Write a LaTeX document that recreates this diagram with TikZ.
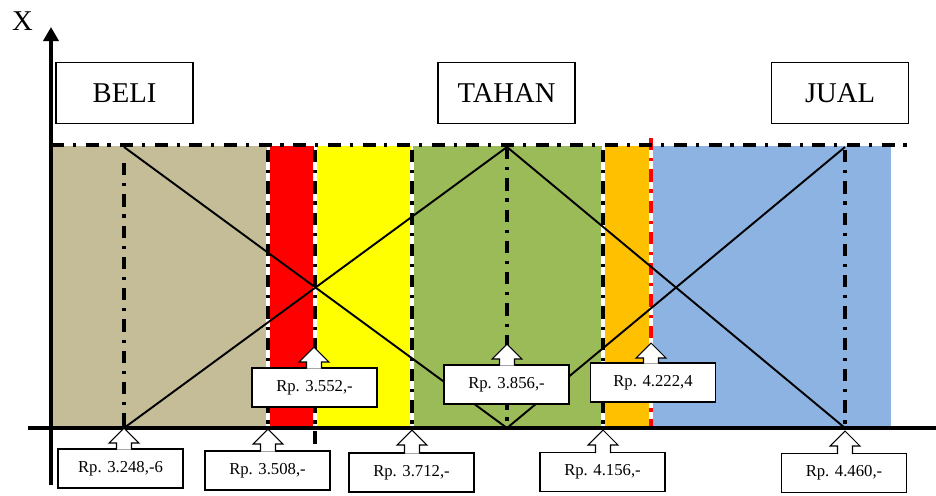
\documentclass[tikz,border=0pt]{standalone}
\usepackage{fontspec}
\setmainfont{Liberation Serif}
\usetikzlibrary{arrows.meta}
\definecolor{zonebeli}{HTML}{C4BD97}
\definecolor{zonered}{HTML}{FF0000}
\definecolor{zoneyellow}{HTML}{FFFF00}
\definecolor{zonegreen}{HTML}{9BBB59}
\definecolor{zoneorange}{HTML}{FFC000}
\definecolor{zoneblue}{HTML}{8DB3E2}
\tikzset{
	dashdot line/.style={line width=1.9pt, dash pattern=on 7pt off 4.5pt on 1.8pt off 4.5pt},
	zone border/.style={dashdot line, preaction={draw, white, solid, line width=1.9pt}},
	top line/.style={line width=2.2pt, dash pattern=on 7.4pt off 5pt on 1.8pt off 5.5pt},
	axis line/.style={line width=2.2pt, -{Triangle[length=0.28cm, width=0.3cm]}},
	member line/.style={line width=1.1pt},
	zone label/.style={draw, line width=0.8pt, minimum width=2.74cm, minimum height=1.22cm, inner sep=0pt, font=\fontsize{16.3}{18}\selectfont},
	price box/.style={draw, fill=white, line width=0.6pt, minimum width=2.5cm, minimum height=0.78cm, inner sep=0pt, font=\fontsize{9.5}{11}\selectfont},
	price arrow/.style={draw, fill=white, line width=0.6pt, line join=miter},
}
% price tag: name, box x, box y, tip x, tip y, text
\newcommand{\pricetag}[6]{%
	\node[price box] (#1) at (#2,#3) {#6};
	\coordinate (#1-tip) at (#4,#5);
	\draw[price arrow] ([xshift=-0.15cm, yshift=-0.6pt]#1-tip |- #1.north) -- ([xshift=-0.15cm, yshift=-0.3cm]#1-tip) -- ([xshift=-0.3cm, yshift=-0.3cm]#1-tip) -- (#1-tip) -- ([xshift=0.3cm, yshift=-0.3cm]#1-tip) -- ([xshift=0.15cm, yshift=-0.3cm]#1-tip) -- ([xshift=0.15cm, yshift=-0.6pt]#1-tip |- #1.north);
}
\begin{document}
\begin{tikzpicture}[x=0.02cm, y=-0.02cm]
	\useasboundingbox (0,0) rectangle (936,495);
	% Zones:
	\fill[zonebeli] (53,146) rectangle (267,428);
	\fill[zonered] (269.5,146) rectangle (313.5,428);
	\fill[zoneyellow] (316.5,146) rectangle (411,428);
	\fill[zonegreen] (413,146) rectangle (602,428);
	\fill[zoneorange] (604.5,146) rectangle (650,428);
	\fill[zoneblue] (652,146) rectangle (890.5,428);
	% Borders:
	\draw[dashdot line] (124,163) -- (124,428);
	\draw[zone border] (268,150) -- (268,428);
	\draw[zone border] (315,150) -- (315,460);
	\draw[zone border] (412,150) -- (412,428);
	\draw[dashdot line] (507,147) -- (507,428);
	\draw[zone border] (603,150) -- (603,428);
	\draw[dashdot line] (845,150) -- (845,428);
	\draw[zone border, zonered] (651,138) -- (651,428);
	% Membership lines:
	\coordinate (beli-top) at (124,147);
	\coordinate (beli-foot) at (124,428);
	\coordinate (tahan-top) at (507,147);
	\coordinate (tahan-foot) at (507,428);
	\coordinate (jual-top) at (845,147);
	\coordinate (jual-foot) at (845,428);
	\draw[member line] (beli-top) -- (tahan-foot);
	\draw[member line] (beli-foot) -- (tahan-top) -- (jual-foot);
	\draw[member line] (tahan-foot) -- (jual-top);
	\draw[top line] (51,145) -- (908,145);
	% Axes:
	\coordinate (origin-x) at (28,428);
	\coordinate (end-x) at (950,428);
	\coordinate (origin-y) at (51,485);
	\coordinate (end-y) at (51,27);
	\draw[axis line] (origin-x) -- (end-x);
	\draw[axis line] (origin-y) -- (end-y);
	\node[font=\fontsize{16.3}{18}\selectfont] (xlabel) at (22.5,21) {X};
	% Zone labels:
	\node[zone label] (beli) at (124.5,93) {BELI};
	\node[zone label] (tahan) at (506.5,93) {TAHAN};
	\node[zone label] (jual) at (840,93) {JUAL};
	% Price tags:
	\pricetag{p3552}{314.5}{387.5}{314}{347}{Rp. 3.552,-}
	\pricetag{p3856}{506.5}{384.5}{507}{344}{Rp. 3.856,-}
	\pricetag{p4222}{653}{382.5}{651}{343}{Rp. 4.222,4}
	\pricetag{p3248}{120.5}{468.5}{124}{428}{Rp. 3.248,-6}
	\pricetag{p3508}{267.5}{470.5}{268}{429}{Rp. 3.508,-}
	\pricetag{p3712}{411.5}{472.5}{412}{430}{Rp. 3.712,-}
	\pricetag{p4156}{602.5}{472}{603}{430}{Rp. 4.156,-}
	\pricetag{p4460}{844}{473}{845}{431}{Rp. 4.460,-}
\end{tikzpicture}
\end{document}
